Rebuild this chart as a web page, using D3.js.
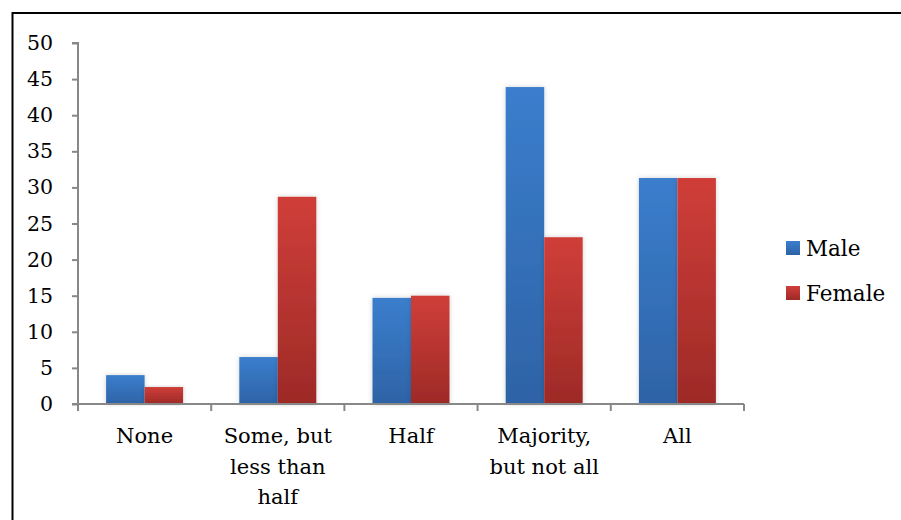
<!DOCTYPE html>
<html><head><meta charset="utf-8">
<script src="https://cdn.jsdelivr.net/npm/d3@7"></script>
<style>body{margin:0;background:#fff}svg{display:block}</style>
</head><body>
<svg id="c" width="901" height="520"></svg>
<script>
const categories = [["None"], ["Some, but", "less than", "half"], ["Half"], ["Majority,", "but not all"], ["All"]];
const seriesNames = ["Male", "Female"];
const maleValues = [4.0, 6.5, 14.7, 43.9, 31.3];
const femaleValues = [2.35, 28.7, 15.0, 23.1, 31.3];
const yTicks = [0, 5, 10, 15, 20, 25, 30, 35, 40, 45, 50];

(function () {
const svg = d3.select("#c");
const font = "DejaVu Serif";
const pL = 78, pR = 744, pT = 43, pB = 404;

const defs = svg.append("defs");
const grads = [["gM", "#3b7ecd", "#2e63a6"], ["gF", "#d03e39", "#9d2a27"]];
grads.forEach(([id, a, b]) => {
  const g = defs.append("linearGradient").attr("id", id).attr("x1", 0).attr("y1", 0).attr("x2", 0).attr("y2", 1);
  g.append("stop").attr("offset", "0%").attr("stop-color", a);
  g.append("stop").attr("offset", "100%").attr("stop-color", b);
});
const f = defs.append("filter").attr("id", "sh").attr("x", "-30%").attr("y", "-10%").attr("width", "160%").attr("height", "120%");
f.append("feDropShadow").attr("dx", 0).attr("dy", 0).attr("stdDeviation", 2.5).attr("flood-color", "#000").attr("flood-opacity", 0.18);

svg.append("rect").attr("x", 12.5).attr("y", 13).attr("width", 900).attr("height", 520)
  .attr("fill", "none").attr("stroke", "#000").attr("stroke-width", 2);

const x0 = d3.scaleBand().domain(d3.range(categories.length)).range([pL, pR]).paddingInner(0).paddingOuter(0);
const x1 = d3.scaleBand().domain(seriesNames).range([0, x0.bandwidth()]).paddingInner(0).paddingOuter(0.73);
const y = d3.scaleLinear().domain([0, 50]).range([pB, pT]);

const series = [maleValues, femaleValues];
const fills = ["url(#gM)", "url(#gF)"];
series.forEach((vals, si) => {
  svg.append("g").selectAll("rect").data(vals).join("rect")
    .attr("x", (d, i) => x0(i) + x1(seriesNames[si]))
    .attr("y", d => y(d))
    .attr("width", x1.bandwidth())
    .attr("height", d => pB - y(d))
    .attr("fill", fills[si])
    .attr("filter", "url(#sh)");
});

const yAxis = svg.append("g").attr("transform", `translate(${pL},0)`)
  .call(d3.axisLeft(y).tickValues(yTicks).tickSize(6).tickPadding(19).tickFormat(d3.format("d")));
yAxis.attr("font-family", font).attr("font-size", 20.5);
yAxis.select(".domain").attr("stroke", "#888").attr("stroke-width", 2).attr("d", `M-6,${pT}H0V${pB}H-6`);
yAxis.selectAll(".tick line").attr("stroke", "#888").attr("stroke-width", 2);
yAxis.selectAll(".tick text").attr("fill", "#000");

const xa = svg.append("g");
xa.append("line").attr("x1", pL - 6).attr("x2", pR).attr("y1", pB).attr("y2", pB)
  .attr("stroke", "#888").attr("stroke-width", 2);
const edges = d3.range(categories.length + 1).map(i => i < categories.length ? x0(i) : x0(categories.length - 1) + x0.bandwidth());
xa.selectAll("line.t").data(edges).join("line").attr("class", "t")
  .attr("x1", d => d).attr("x2", d => d).attr("y1", pB).attr("y2", pB + 7)
  .attr("stroke", "#888").attr("stroke-width", 2);
categories.forEach((lines, i) => {
  const t = xa.append("text").attr("text-anchor", "middle").attr("font-family", font)
    .attr("font-size", 21).attr("fill", "#000");
  lines.forEach((ln, k) => {
    t.append("tspan").attr("x", x0(i) + x0.bandwidth() / 2).attr("y", 443 + k * 30.5).text(ln);
  });
});

const leg = svg.append("g");
seriesNames.forEach((n, i) => {
  const cy = 248 + i * 45;
  leg.append("rect").attr("x", 786).attr("y", cy - 7).attr("width", 14).attr("height", 14).attr("fill", fills[i]);
  leg.append("text").attr("x", 806).attr("y", cy + 8).attr("font-family", font).attr("font-size", 21.5)
    .attr("fill", "#000").text(n);
});
})();
</script>
</body></html>
